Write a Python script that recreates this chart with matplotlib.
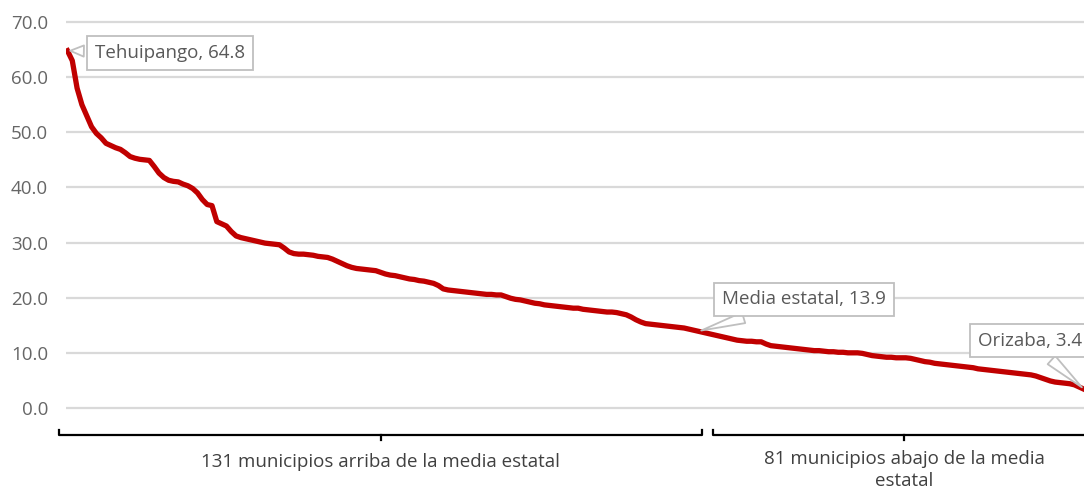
import matplotlib.pyplot as plt
from matplotlib.transforms import blended_transform_factory

plt.rcParams['font.family'] = ['Open Sans', 'DejaVu Sans']

# municipios ordenados de mayor a menor (212)
values = [
    64.8, 63.0, 58.0, 55.0, 53.0, 51.0, 49.8, 49.0, 48.0, 47.6,
    47.2, 46.9, 46.3, 45.6, 45.3, 45.1, 45.0, 44.9, 43.8, 42.6,
    41.8, 41.3, 41.1, 41.0, 40.6, 40.3, 39.8, 39.0, 37.8, 36.9,
    36.7, 33.8, 33.4, 33.0, 32.0, 31.2, 30.9, 30.7, 30.5, 30.3,
    30.1, 29.9, 29.8, 29.7, 29.6, 29.0, 28.3, 28.0, 27.9, 27.9,
    27.8, 27.7, 27.5, 27.4, 27.3, 27.0, 26.6, 26.2, 25.8, 25.5,
    25.3, 25.2, 25.1, 25.0, 24.9, 24.6, 24.3, 24.1, 24.0, 23.8,
    23.6, 23.4, 23.3, 23.1, 23.0, 22.8, 22.6, 22.2, 21.6, 21.4,
    21.3, 21.2, 21.1, 21.0, 20.9, 20.8, 20.7, 20.6, 20.6, 20.5,
    20.5, 20.2, 19.9, 19.7, 19.6, 19.4, 19.2, 19.0, 18.9, 18.7,
    18.6, 18.5, 18.4, 18.3, 18.2, 18.1, 18.1, 17.9, 17.8, 17.7,
    17.6, 17.5, 17.4, 17.4, 17.3, 17.1, 16.9, 16.5, 16.0, 15.6,
    15.3, 15.2, 15.1, 15.0, 14.9, 14.8, 14.7, 14.6, 14.5, 14.3,
    14.1, 13.9, 13.7, 13.5, 13.3, 13.1, 12.9, 12.7, 12.5, 12.3,
    12.2, 12.1, 12.1, 12.0, 12.0, 11.6, 11.3, 11.2, 11.1, 11.0,
    10.9, 10.8, 10.7, 10.6, 10.5, 10.4, 10.4, 10.3, 10.2, 10.2,
    10.1, 10.1, 10.0, 10.0, 10.0, 9.9, 9.7, 9.5, 9.4, 9.3,
    9.2, 9.2, 9.1, 9.1, 9.1, 9.0, 8.8, 8.6, 8.4, 8.3,
    8.1, 8.0, 7.9, 7.8, 7.7, 7.6, 7.5, 7.4, 7.3, 7.1,
    7.0, 6.9, 6.8, 6.7, 6.6, 6.5, 6.4, 6.3, 6.2, 6.1,
    6.0, 5.8, 5.5, 5.2, 4.9, 4.7, 4.6, 4.5, 4.4, 4.2,
    3.8, 3.4,
]
media_estatal = 13.9
n_above = 131
n_below = 81
yticks = [0, 10, 20, 30, 40, 50, 60, 70]

gray = '#595959'
x = list(range(len(values)))

fig = plt.figure(figsize=(10.84, 4.93), dpi=100)
ax = fig.add_axes([0.0609, 0.1613, 0.9391, 0.8052])

ax.plot(x, values, color='#c00000', lw=3.8, solid_joinstyle='round', zorder=3)

ax.set_xlim(-0.3, len(values) - 1)
ax.set_ylim(-1, 71)
ax.set_yticks(yticks)
ax.set_yticklabels([f"{t:.1f}" for t in yticks], color='#666666', fontsize=13.5)
ax.set_xticks([])
ax.tick_params(axis='y', length=0, pad=13)
ax.grid(axis='y', color='#d9d9d9', lw=1.6)
ax.set_axisbelow(True)
for s in ax.spines.values():
    s.set_visible(False)

box = dict(boxstyle='square,pad=0.42', fc='white', ec='#bfbfbf', lw=1.3)
arrow = dict(arrowstyle='wedge,tail_width=0.6,shrink_factor=0.5', fc='white', ec='#bfbfbf', lw=1.3)


def callout(text, i, dx, dy):
    ax.annotate(text, xy=(i, values[i]), xytext=(dx, dy), textcoords='offset points',
                ha='center', va='center', fontsize=13.5, color=gray,
                bbox=box, arrowprops=arrow, zorder=5, annotation_clip=False)


callout(f"Tehuipango, {values[0]}", 0, 74, -1.5)
callout(f"Media estatal, {media_estatal}", n_above, 76, 23)
callout(f"Orizaba, {values[-1]}", len(values) - 1, -39, 35)

# llaves inferiores
tr = blended_transform_factory(ax.transData, fig.transFigure)
y_line, y_end, y_mid = 0.1176, 0.1278, 0.1075
groups = [
    (-1.7, n_above + 0.7, f"{n_above} municipios arriba de la media estatal"),
    (n_above + 3, n_above + n_below + 1.3, f"{n_below} municipios abajo de la media\nestatal"),
]
for x0, x1, label in groups:
    xm = (x0 + x1) / 2
    ax.plot([x0, x0, x1, x1], [y_end, y_line, y_line, y_end], color='black', lw=1.6,
            transform=tr, clip_on=False)
    ax.plot([xm, xm], [y_line, y_mid], color='black', lw=1.6, transform=tr, clip_on=False)
    ax.text(xm, 0.0629, label, transform=tr, ha='center', va='top' if '\n' in label else 'center',
            fontsize=13.5, color='#404040', linespacing=1.3)

# ajustar posición del texto de dos líneas
ax.texts[-1].set_y(0.088)

fig.savefig('out.png', dpi=100)
